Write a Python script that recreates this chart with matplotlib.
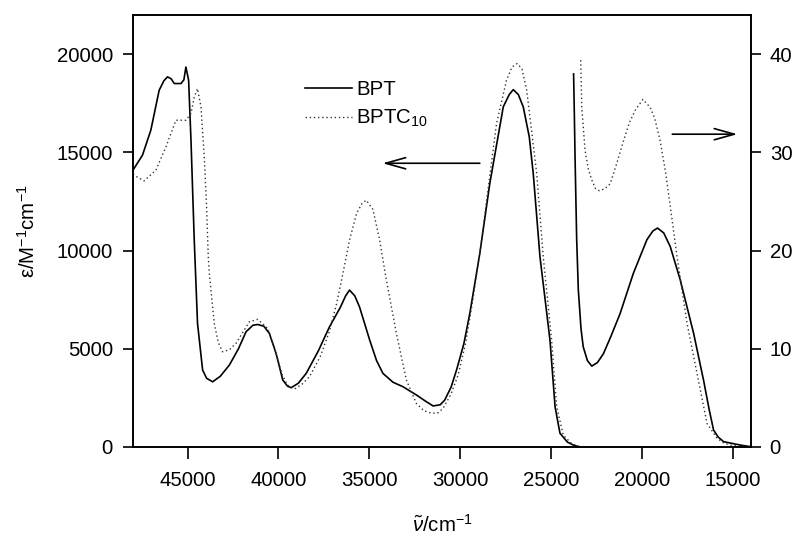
import matplotlib
matplotlib.use("Agg")
import matplotlib.pyplot as plt

plt.rcParams['font.family'] = ['Liberation Sans', 'DejaVu Sans']
plt.rcParams['mathtext.fontset'] = 'custom'
plt.rcParams['mathtext.rm'] = 'Liberation Sans'
plt.rcParams['mathtext.it'] = 'Liberation Sans:italic'
plt.rcParams['mathtext.sf'] = 'Liberation Sans'

# ---- data: UV region (left axis, M^-1 cm^-1) ----
bpt_uv_x = [48000, 47480, 47020, 46560, 46300, 46100, 45900, 45730, 45360, 45200,
            45090, 44940, 44810, 44630, 44450, 44170, 43950, 43620, 43200, 42700,
            42200, 41780, 41400, 41140, 40800, 40500, 40130, 39760, 39500, 39300,
            38900, 38470, 37800, 37190, 36600, 36300, 36090, 35800, 35540, 34980,
            34600, 34250, 33700, 33150, 32410, 31900, 31490, 31100, 30850, 30500,
            30200, 29800, 29470, 28920, 28370, 27630, 27300, 27080, 26800, 26530,
            26200, 25980, 25610, 25060, 24780, 24510, 24100, 23780, 23500]
bpt_uv_y = [14100, 14860, 16130, 18170, 18650, 18850, 18750, 18510, 18510, 18700,
            19350, 18680, 15620, 10530, 6290, 3920, 3500, 3320, 3600, 4170,
            5000, 5870, 6200, 6240, 6150, 5790, 4770, 3410, 3100, 3020,
            3250, 3750, 4900, 6120, 7100, 7700, 7990, 7700, 7140, 5450,
            4400, 3750, 3300, 3070, 2650, 2330, 2090, 2150, 2390, 3050,
            3920, 5250, 6800, 9860, 13420, 17320, 17950, 18200, 17950, 17320,
            15800, 13930, 9690, 5450, 2050, 700, 250, 100, 20]

bptc_uv_x = [48000, 47940, 47390, 46740, 46190, 45640, 45090, 44810, 44630, 44450,
             44260, 44080, 43950, 43860, 43800, 43530, 43300, 43070, 42700, 42330,
             41600, 41140, 40590, 40200, 39800, 39500, 39120, 38700, 38290, 37700,
             37190, 36800, 36450, 36090, 35700, 35400, 35170, 34800, 34430, 34060,
             33510, 32960, 32410, 32000, 31580, 31200, 30940, 30500, 30100, 29700,
             29300, 28900, 28400, 28000, 27450, 27150, 26860, 26600, 26340, 25790,
             25430, 24970, 24690, 24330, 23900, 23600, 23300]
bptc_uv_y = [13900, 13840, 13550, 14100, 15280, 16640, 16640, 16980, 17830, 18250,
             17320, 14770, 12230, 9690, 8840, 6290, 5300, 4850, 4950, 5280,
             6380, 6500, 6040, 5000, 3700, 3150, 2950, 3200, 3580, 4600,
             5900, 7300, 8840, 10530, 11900, 12400, 12570, 12100, 10530, 8500,
             5790, 3410, 2220, 1850, 1710, 1750, 1970, 2700, 3700, 5300,
             7500, 10000, 13600, 16470, 18680, 19350, 19530, 19250, 18170, 13930,
             9690, 5450, 2050, 610, 200, 60, 20]

# ---- data: visible region (right axis, magnified) ----
bpt_vis_x = [23760, 23720, 23680, 23590, 23500, 23350, 23230, 23000, 22760, 22450,
             22120, 21700, 21200, 20470, 19730, 19400, 19140, 18800, 18440, 17890,
             17160, 16610, 16300, 16060, 15800, 15500, 15000, 14590, 14100]
bpt_vis_y = [38.0, 34.0, 29.5, 21.1, 16.0, 12.0, 10.2, 8.8, 8.24, 8.6,
             9.5, 11.3, 13.6, 17.7, 21.1, 22.0, 22.3, 21.8, 20.4, 17.0,
             11.6, 6.8, 3.8, 1.73, 1.0, 0.54, 0.35, 0.2, 0.05]

bptc_vis_x = [23370, 23310, 23130, 22950, 22760, 22550, 22340, 22050, 21750, 21400,
              21010, 20700, 20370, 19950, 19550, 19300, 19000, 18700, 18440, 18070,
              17520, 16970, 16420, 15870, 15500, 15130, 14100]
bptc_vis_y = [39.4, 34.6, 30.2, 28.3, 27.2, 26.3, 26.1, 26.3, 26.8, 28.8,
              31.2, 33.0, 34.3, 35.4, 34.6, 33.5, 31.2, 28.0, 24.5, 19.4,
              12.6, 7.5, 2.4, 0.9, 0.4, 0.2, 0.05]

series_labels = ['BPT', 'BPTC$_{10}$']
left_ticks = [0, 5000, 10000, 15000, 20000]
right_ticks = [0, 10, 20, 30, 40]
x_ticks = [45000, 40000, 35000, 30000, 25000, 20000, 15000]

FS = 14.7
fig = plt.figure(figsize=(7.98, 5.37), dpi=100)
ax = fig.add_axes([133/798, 1-447/537, (751-133)/798, (447-15)/537])
ax2 = ax.twinx()

solid_kw = dict(color='black', lw=1.2, ls='-')
dot_kw = dict(color='#333333', lw=1.0, ls=(0, (1, 2)))

l1, = ax.plot(bpt_uv_x, bpt_uv_y, **solid_kw)
l2, = ax.plot(bptc_uv_x, bptc_uv_y, **dot_kw)
ax2.plot(bpt_vis_x, bpt_vis_y, **solid_kw)
ax2.plot(bptc_vis_x, bptc_vis_y, **dot_kw)

ax.set_xlim(48000, 14000)
ax.set_ylim(0, 22000)
ax2.set_ylim(0, 44)

ax.set_xticks(x_ticks)
ax.set_xticklabels([str(v) for v in x_ticks])
ax.set_yticks(left_ticks)
ax.set_yticklabels([str(v) for v in left_ticks])
ax2.set_yticks(right_ticks)
ax2.set_yticklabels([str(v) for v in right_ticks])

for a in (ax, ax2):
    for s in a.spines.values():
        s.set_linewidth(1.2)
ax.tick_params(axis='y', direction='out', length=7.5, width=1.2, pad=7, labelsize=FS)
ax.tick_params(axis='x', direction='out', length=8.5, width=1.2, pad=9, labelsize=FS,
               top=False)
ax2.tick_params(axis='y', direction='out', length=7.5, width=1.2, pad=6, labelsize=FS)

ax.set_ylabel('ε/M$^{-1}$cm$^{-1}$', fontsize=FS, va='center')
ax.yaxis.set_label_coords(-(133 - 28) / 618, 0.5)
ax.set_xlabel(r'$\tilde{\nu}$/cm$^{-1}$', fontsize=FS, va='center')
ax.xaxis.set_label_coords(0.5, -(525 - 447) / 432)

leg = ax.legend([l1, l2], series_labels, loc='upper left',
                bbox_to_anchor=(305/798, 1-80/537), bbox_transform=fig.transFigure,
                frameon=False, fontsize=FS, handlelength=2.3, handletextpad=0.2,
                labelspacing=0.45, borderpad=0, borderaxespad=0)

# arrows indicating which axis each part belongs to
ax.annotate('', xy=(34270, 14450), xytext=(28920, 14450),
            arrowprops=dict(arrowstyle='->,head_length=1.0,head_width=0.28',
                            lw=1.2, color='black', mutation_scale=14.4,
                            shrinkA=0, shrinkB=0))
ax.annotate('', xy=(14750, 15930), xytext=(18330, 15930),
            arrowprops=dict(arrowstyle='->,head_length=1.0,head_width=0.28',
                            lw=1.2, color='black', mutation_scale=14.4,
                            shrinkA=0, shrinkB=0))

fig.savefig('out.png', dpi=100)
